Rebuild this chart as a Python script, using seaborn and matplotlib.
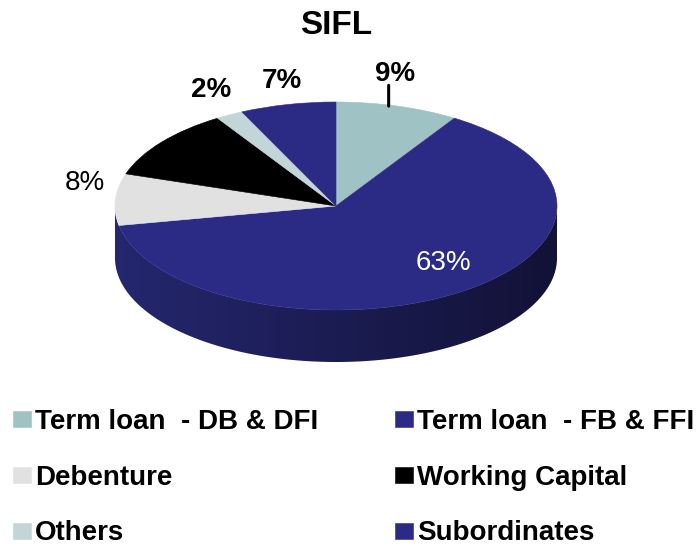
import numpy as np
import matplotlib
matplotlib.use("Agg")
import matplotlib.pyplot as plt
from matplotlib.patches import Polygon
from matplotlib.colors import LinearSegmentedColormap
from matplotlib.transforms import ScaledTranslation
import seaborn as sns

# data
categories = ["Term loan  - DB & DFI", "Term loan  - FB & FFI", "Debenture",
              "Working Capital", "Others", "Subordinates"]
shares = [9, 63, 8, 11, 2, 7]
pct_labels = ["9%", "63%", "8%", None, "2%", "7%"]
slice_colors = ["#9fc3c4", "#2b2a85", "#e1e1e1", "#000000", "#c2d5d7", "#2b2a85"]

# label styling: (offset in points from rim point, colour, weight, leader line)
label_style = {
    "9%": ((-2, 23), "black", "bold", True),
    "63%": ((-12, 21), "white", "normal", False),
    "8%": ((-22, 12), "black", "normal", False),
    "2%": ((-13, 18), "black", "bold", False),
    "7%": ((-4, 17), "black", "bold", False),
}

sns.set_theme(style="white")
plt.rcParams["font.family"] = ["Liberation Sans", "DejaVu Sans"]
plt.rcParams["text.color"] = "black"

W, H = 700, 547
cx, cy, rx, ry = 336, 206, 221, 104   # pie ellipse in pixels
depth = 0.5                           # thickness in pie-y units

fig = plt.figure(figsize=(W / 100, H / 100), dpi=100)
ax = fig.add_axes([0, 0, 1, 1])

wedges, _ = ax.pie(shares, colors=slice_colors, startangle=90, counterclock=False,
                   radius=1, center=(0, 0),
                   wedgeprops=dict(linewidth=0.4, zorder=3))
for w, c in zip(wedges, slice_colors):
    w.set_edgecolor(c)

ax.set_aspect("auto")
ax.axis("off")

# side of the cylinder with a left-to-right shading
t = np.linspace(np.pi, 2 * np.pi, 200)
outline = np.vstack([np.c_[np.cos(t), np.sin(t)],
                     np.c_[np.cos(t[::-1]), np.sin(t[::-1]) - depth]])
side = Polygon(outline, closed=True, facecolor="none", edgecolor="none")
ax.add_patch(side)
side_cmap = LinearSegmentedColormap.from_list("side", ["#25276f", "#1b1c52", "#121237"])
grad = np.linspace(0, 1, 256)[None, :]
im = ax.imshow(grad, cmap=side_cmap, extent=(-1, 1, -1 - depth, 0.05),
               aspect="auto", zorder=1)
im.set_clip_path(side)
ax.set_xlim(-cx / rx, (W - cx) / rx)
ax.set_ylim((cy - H) / ry, cy / ry)

# percentage labels
for w, lab in zip(wedges, pct_labels):
    if lab is None:
        continue
    mid = np.deg2rad((w.theta1 + w.theta2) / 2)
    rim = (np.cos(mid), np.sin(mid))
    off, col, weight, leader = label_style[lab]
    ax.annotate(lab, xy=rim, xytext=off, textcoords="offset points",
                ha="center", va="center", fontsize=20, color=col,
                fontweight=weight, zorder=5)
    if leader:
        shift = ax.transData + ScaledTranslation(-0.09, 0, fig.dpi_scale_trans)
        ax.annotate("", xy=rim, xycoords=shift, xytext=(0, 15),
                    textcoords="offset points",
                    arrowprops=dict(arrowstyle="-", color="black", lw=2.2,
                                    shrinkA=0, shrinkB=0), zorder=5)

fig.suptitle("SIFL", x=cx / W, y=1 - 25 / H, va="center",
             fontsize=24, fontweight="bold", color="black")

# legend filled row by row like the original
order = [0, 2, 4, 1, 3, 5]
leg = fig.legend([wedges[i] for i in order], [categories[i] for i in order],
                 ncol=2, loc="upper left",
                 bbox_to_anchor=(13 / W, 1 - 409 / H), frameon=False,
                 handlelength=0.65, handleheight=0.5, handletextpad=0.15,
                 columnspacing=2.76, labelspacing=1.07, borderaxespad=0,
                 borderpad=0, prop=dict(weight="bold", size=20))
for txt in leg.get_texts():
    txt.set_color("black")

fig.savefig("out.png", dpi=100)
